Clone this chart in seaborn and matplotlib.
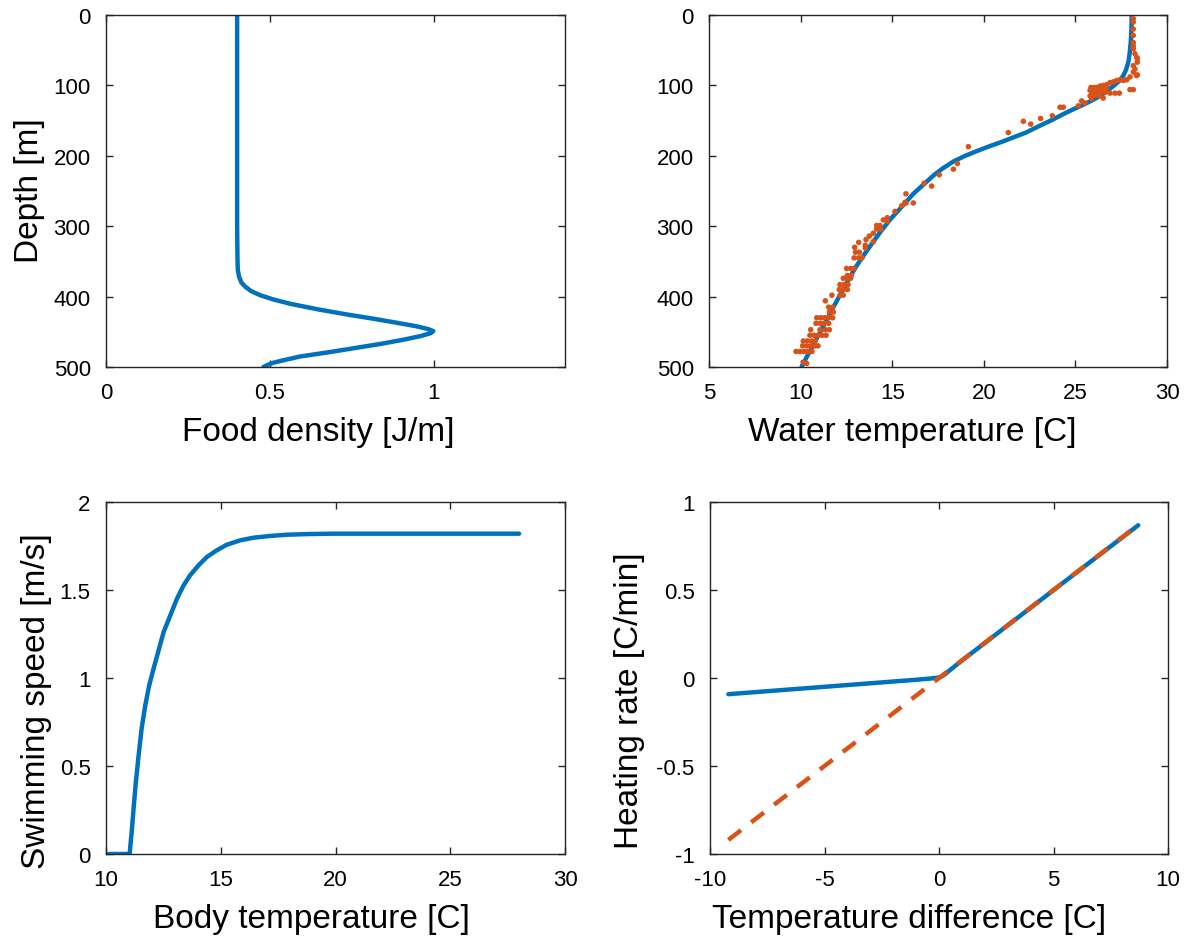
import numpy as np
import pandas as pd
import matplotlib
matplotlib.use("Agg")
import matplotlib.pyplot as plt
import seaborn as sns

# ---------------- data ----------------
# Panel A: food density profile
food_depth = [0, 100, 200, 300, 346, 362, 372, 380, 386, 392, 398, 404, 410, 418,
              425, 431, 437, 442, 446, 449, 452, 456, 461, 467, 473, 479, 485, 490, 494, 497, 500]
food_value = [0.40, 0.40, 0.40, 0.40, 0.401, 0.402, 0.406, 0.413, 0.425, 0.442, 0.47, 0.51,
              0.56, 0.645, 0.73, 0.81, 0.885, 0.945, 0.982, 0.998, 0.99, 0.96, 0.91, 0.84,
              0.76, 0.68, 0.593, 0.545, 0.51, 0.493, 0.48]

# Panel B: water temperature profile (model curve)
wt_depth = [0, 20, 39, 55, 67, 78, 86, 94, 101, 108, 115, 121, 126, 132, 138, 144, 150,
            158, 167, 173, 180, 187, 195, 201, 208, 218, 228, 241, 254, 265, 275, 290,
            309, 335, 356, 380, 415, 451, 486, 500]
wt_temp = [28.07, 28.06, 28.02, 27.96, 27.89, 27.76, 27.62, 27.38, 27.07, 26.72, 26.34,
           25.93, 25.55, 25.05, 24.55, 24.10, 23.65, 23.00, 22.30, 21.70, 21.00, 20.25,
           19.45, 18.90, 18.35, 17.75, 17.25, 16.70, 16.15, 15.78, 15.43, 14.90, 14.33,
           13.61, 13.06, 12.52, 11.79, 11.06, 10.33, 10.05]

# Panel B: measured temperature points
obs_temp = [10.15, 10.33,
            9.75, 9.97, 10.19, 10.40, 10.62,
            10.11, 10.33, 10.55, 10.77, 10.95,
            10.15, 10.37, 10.59, 10.80,
            10.51, 10.73, 10.95, 11.17, 11.39,
            10.55, 11.06, 11.35, 11.57,
            10.84, 11.06, 11.28, 11.53,
            10.88, 11.10, 11.31, 11.53, 11.75,
            11.57, 11.79, 11.53, 11.75,
            11.35, 11.71, 12.15, 12.33,
            12.11, 12.33, 12.55,
            12.15, 12.37, 12.59,
            12.33, 12.55, 12.73,
            12.55, 12.77,
            12.51, 12.73, 12.92,
            12.92, 13.17, 13.35,
            12.99, 13.21, 12.95, 13.17,
            13.53, 13.53, 13.57, 13.75, 13.97, 13.97,
            14.15, 14.33, 14.15, 14.37,
            14.52, 14.73, 14.73,
            15.15, 15.52, 15.75, 16.15, 15.75, 15.70,
            17.15, 16.74, 17.57, 18.34, 18.56, 19.16,
            21.34, 22.16, 22.56, 23.10, 23.74, 24.16, 24.34,
            25.16, 25.34, 25.52,
            25.80, 25.98, 26.16, 26.34, 26.52, 26.71, 26.89, 27.07, 27.25, 27.43,
            25.80, 26.07, 26.34, 26.62, 26.89, 27.16, 27.40, 26.52, 25.89,
            25.90, 26.20, 26.40, 26.00, 26.70, 26.30, 25.85, 26.55, 26.10, 26.45,
            28.16, 28.16, 28.16, 28.16, 28.16, 28.16, 28.25, 28.38, 28.38, 28.16,
            28.25, 28.16, 28.38, 27.98, 27.80, 27.62, 27.98, 28.16, 28.16, 28.34, 28.34]
obs_depth = [493, 495,
             478, 478, 478, 478, 478,
             470, 470, 470, 470, 470,
             463, 463, 463, 463,
             455, 455, 455, 455, 455,
             447, 447, 447, 447,
             438, 438, 438, 438,
             430, 430, 430, 430, 430,
             422, 422, 415, 415,
             406, 398, 398, 398,
             390, 390, 390,
             383, 383, 383,
             374, 374, 374,
             370, 370,
             360, 360, 360,
             345, 345, 345,
             337, 337, 330, 323,
             331, 327, 319, 314, 310, 322,
             299, 299, 304, 304,
             291, 288, 293,
             279, 271, 267, 267, 254, 266,
             243, 239, 227, 219, 211, 187,
             167, 151, 155, 147, 143, 131, 131,
             129, 122, 125,
             107, 105, 103, 101, 100, 99, 96, 95, 93, 92,
             115, 114, 112, 110, 111, 111, 111, 118, 119,
             110, 108, 106, 103, 104, 115, 103, 107, 109, 104,
             5, 10, 20, 29, 39, 48, 55, 62, 67, 72,
             77, 81, 85, 88, 92, 93, 106, 106, 44, 60, 86]

# Panel C: swimming speed vs body temperature
body_temp = [10.1, 10.6, 11.03, 11.13, 11.20, 11.30, 11.42, 11.55, 11.71, 11.88, 12.07,
             12.29, 12.51, 12.80, 13.09, 13.38, 13.66, 14.03, 14.39, 14.82, 15.26, 15.84,
             16.42, 17.14, 17.87, 18.88, 19.90, 22.8, 25.5, 28.0]
swim_speed = [0.0, 0.0, 0.0, 0.142, 0.256, 0.407, 0.559, 0.711, 0.843, 0.957, 1.052,
              1.156, 1.261, 1.355, 1.450, 1.526, 1.583, 1.640, 1.687, 1.725, 1.757, 1.782,
              1.797, 1.807, 1.814, 1.818, 1.820, 1.820, 1.820, 1.820]

# Panel D: heating rate vs temperature difference
dtemp_model = [-9.2, -6.0, -3.0, -1.0, -0.3, 0.0, 0.15, 0.3, 0.5, 0.75, 1.0, 3.0, 6.0, 8.7]
heat_model = [-0.092, -0.060, -0.030, -0.010, -0.002, 0.003, 0.011, 0.025, 0.047, 0.073,
              0.099, 0.299, 0.599, 0.868]
dtemp_lin = [-9.2, 0.0, 8.7]
heat_lin = [-0.92, 0.0, 0.87]

# ---------------- styling ----------------
sns.set_theme(style="white")
plt.rcParams["font.family"] = ["Liberation Sans", "DejaVu Sans"]
plt.rcParams["axes.unicode_minus"] = False
plt.rcParams["text.color"] = "black"
plt.rcParams["axes.labelcolor"] = "black"

BLUE = "#0072BD"
ORANGE = "#D95319"
LW = 3.2
TICK_FS = 16
LABEL_FS = 24

fig = plt.figure(figsize=(11.87, 9.37), dpi=100)
W, H = 1187, 937


def make_ax(x0, y0, x1, y1):
    return fig.add_axes([x0 / W, 1 - y1 / H, (x1 - x0) / W, (y1 - y0) / H])


axA = make_ax(106, 16, 565, 368)
axB = make_ax(709, 16, 1167, 368)
axC = make_ax(106, 503, 565, 855)
axD = make_ax(710, 503, 1168, 855)


def style(ax):
    for s in ax.spines.values():
        s.set_color("#262626")
        s.set_linewidth(1.0)
    ax.tick_params(direction="in", length=5, width=1.0, color="#262626",
                   top=True, right=True, bottom=True, left=True,
                   labelsize=TICK_FS, labelcolor="black")
    ax.tick_params(axis="x", pad=11)
    ax.tick_params(axis="y", pad=11)
    ax.grid(False)


def fmt(v):
    return ("%g" % v)


# Panel A
dfA = pd.DataFrame({"food": food_value, "depth": food_depth})
sns.lineplot(data=dfA, x="food", y="depth", sort=False, estimator=None,
             color=BLUE, linewidth=LW, ax=axA)
axA.set_xlim(0, 1.4)
axA.set_ylim(500, 0)
axA.set_xticks([0, 0.5, 1])
axA.set_xticklabels([fmt(v) for v in [0, 0.5, 1]])
axA.set_yticks([0, 100, 200, 300, 400, 500])
axA.set_xlabel("Food density [J/m]", fontsize=LABEL_FS, va="center", color="black")
axA.set_ylabel("Depth [m]", fontsize=LABEL_FS, va="center", color="black")
axA.xaxis.set_label_coords(0.462, -0.182)
axA.yaxis.set_label_coords(-0.166, 0.505)

# Panel B
dfB = pd.DataFrame({"temp": wt_temp, "depth": wt_depth})
dfObs = pd.DataFrame({"temp": obs_temp, "depth": obs_depth})
sns.lineplot(data=dfB, x="temp", y="depth", sort=False, estimator=None,
             color=BLUE, linewidth=LW, ax=axB, zorder=2)
sns.scatterplot(data=dfObs, x="temp", y="depth", color=ORANGE, s=16,
                edgecolor="none", linewidth=0, ax=axB, zorder=3)
axB.set_xlim(5, 30)
axB.set_ylim(500, 0)
axB.set_xticks([5, 10, 15, 20, 25, 30])
axB.set_yticks([0, 100, 200, 300, 400, 500])
axB.set_xlabel("Water temperature [C]", fontsize=LABEL_FS, va="center", color="black")
axB.set_ylabel("")
axB.xaxis.set_label_coords(0.443, -0.182)

# Panel C
dfC = pd.DataFrame({"tb": body_temp, "v": swim_speed})
sns.lineplot(data=dfC, x="tb", y="v", sort=False, estimator=None,
             color=BLUE, linewidth=LW, ax=axC)
axC.set_xlim(10, 30)
axC.set_ylim(0, 2)
axC.set_xticks([10, 15, 20, 25, 30])
axC.set_yticks([0, 0.5, 1, 1.5, 2])
axC.set_yticklabels([fmt(v) for v in [0, 0.5, 1, 1.5, 2]])
axC.set_xlabel("Body temperature [C]", fontsize=LABEL_FS, va="center", color="black")
axC.set_ylabel("Swimming speed [m/s]", fontsize=LABEL_FS, va="center", color="black")
axC.xaxis.set_label_coords(0.447, -0.182)
axC.yaxis.set_label_coords(-0.152, 0.4375)

# Panel D
dfD = pd.DataFrame({"dt": dtemp_model, "h": heat_model})
dfL = pd.DataFrame({"dt": dtemp_lin, "h": heat_lin})
sns.lineplot(data=dfD, x="dt", y="h", sort=False, estimator=None,
             color=BLUE, linewidth=LW, ax=axD, zorder=2)
sns.lineplot(data=dfL, x="dt", y="h", sort=False, estimator=None,
             color=ORANGE, linewidth=LW, ax=axD, zorder=3, dashes=False)
axD.lines[-1].set_dashes([3.6, 2.9])
axD.set_xlim(-10, 10)
axD.set_ylim(-1, 1)
axD.set_xticks([-10, -5, 0, 5, 10])
axD.set_yticks([-1, -0.5, 0, 0.5, 1])
axD.set_yticklabels([fmt(v) for v in [-1, -0.5, 0, 0.5, 1]])
axD.set_xlabel("Temperature difference [C]", fontsize=LABEL_FS, va="center", color="black")
axD.set_ylabel("Heating rate [C/min]", fontsize=LABEL_FS, va="center", color="black")
axD.xaxis.set_label_coords(0.434, -0.182)
axD.yaxis.set_label_coords(-0.175, 0.4375)

for ax in (axA, axB, axC, axD):
    style(ax)
    leg = ax.get_legend()
    if leg is not None:
        leg.remove()

fig.savefig("out.png", dpi=100)
